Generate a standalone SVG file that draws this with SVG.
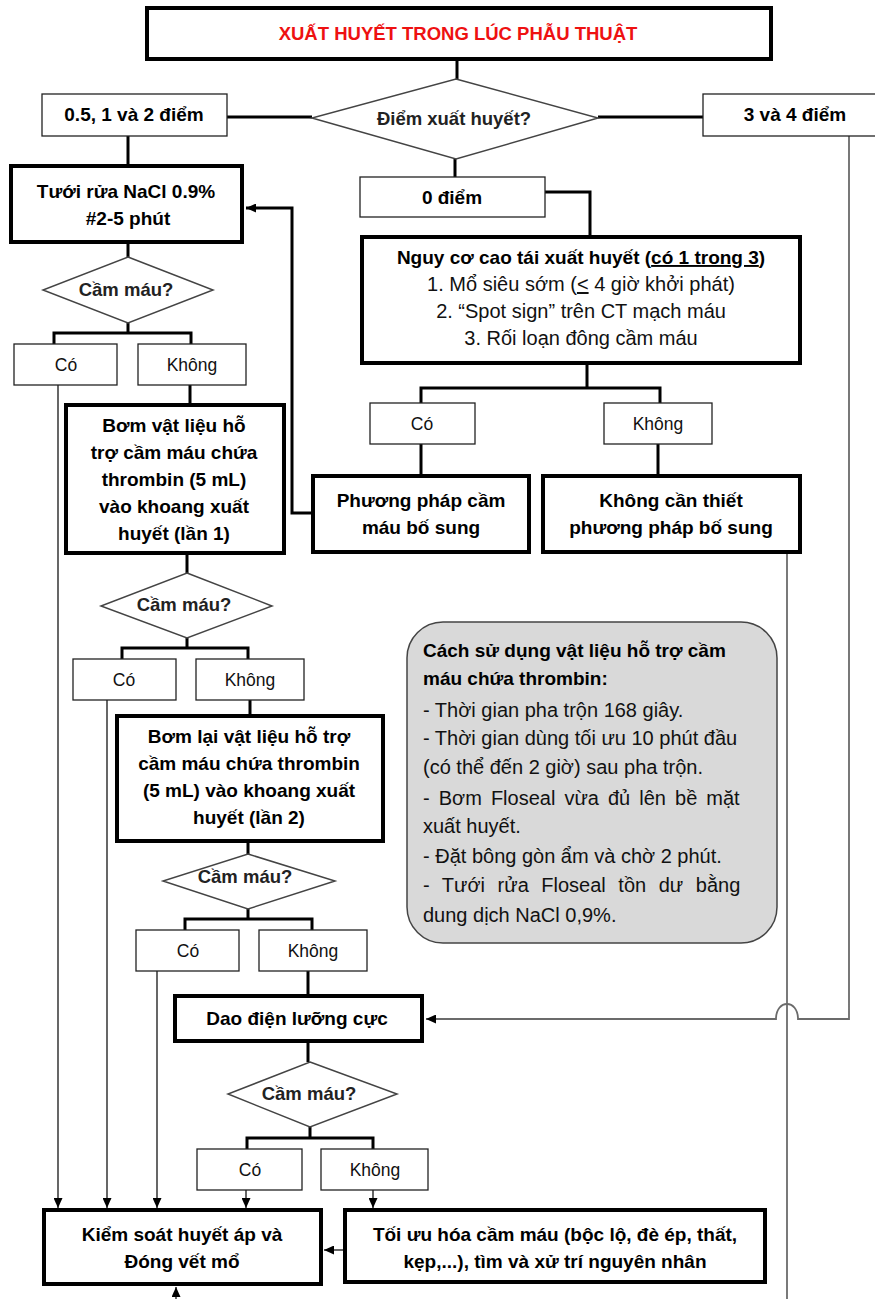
<svg xmlns="http://www.w3.org/2000/svg" width="875" height="1299" viewBox="0 0 875 1299">
<style>
text{font-family:"Liberation Sans",Arial,sans-serif;fill:#000}
.b{font-weight:700;font-size:19px;text-anchor:middle}
.t{font-weight:700;font-size:18.5px;text-anchor:middle;fill:#ee1111}
.d{font-weight:700;font-size:18.5px;text-anchor:middle;fill:#222}
.n{font-weight:400;font-size:20px;text-anchor:middle;fill:#111}
.l{font-weight:400;font-size:17.5px;text-anchor:middle;fill:#111}
.nl{font-weight:400;font-size:20px;fill:#111}
.nb{font-weight:700;font-size:19px;fill:#000}
.thick{fill:#fff;stroke:#000;stroke-width:4}
.thin{fill:#fff;stroke:#222;stroke-width:1.3}
.dia{fill:#fff;stroke:#444;stroke-width:1.5}
.note{fill:#d9d9d9;stroke:#444;stroke-width:1.5}
.c3{fill:none;stroke:#000;stroke-width:3}
.c1{fill:none;stroke:#000;stroke-width:1.2}
.cg{fill:none;stroke:#6b6b6b;stroke-width:1.8}
</style>
<defs>
<marker id="ah" markerUnits="userSpaceOnUse" markerWidth="10" markerHeight="9" refX="10" refY="4.5" orient="auto">
<path d="M0,0 L10,4.5 L0,9 z" fill="#000"/>
</marker>
</defs>
<rect width="875" height="1299" fill="#fff"/>

<g id="connectors">
<path class="c3" d="M457 61 V79"/>
<path class="c3" d="M227 117 H312"/>
<path class="c3" d="M598 117 H703"/>
<path class="c3" d="M128 136 V164"/>
<path class="c3" d="M455 159 V177"/>
<path class="c3" d="M545 192 H590 V235"/>
<path class="c3" d="M587 365 V388 M421 403 V388 H660 V403"/>
<path class="c3" d="M421 444 V474"/>
<path class="c3" d="M658 444 V474"/>
<path class="c3" d="M311 513 H292 V208 H246" marker-end="url(#ah)"/>
<path class="c3" d="M128 244 V257"/>
<path class="c3" d="M128 323 V333 M54 344 V333 H191 V344"/>
<path class="c3" d="M190 385 V403"/>
<path class="c3" d="M187 555 V573"/>
<path class="c3" d="M187 638 V648 M122 659 V648 H248 V659"/>
<path class="c3" d="M250 700 V714"/>
<path class="c3" d="M248 843 V854"/>
<path class="c3" d="M248 909 V919 M185 930 V919 H312 V930"/>
<path class="c3" d="M308 971 V994"/>
<path class="c3" d="M308 1043 V1062"/>
<path class="c3" d="M310 1127 V1138 M247 1149 V1138 H373 V1149"/>
<path class="c1" d="M58 385 V1208" marker-end="url(#ah)"/>
<path class="c1" d="M107 700 V1208" marker-end="url(#ah)"/>
<path class="c1" d="M157 971 V1208" marker-end="url(#ah)"/>
<path class="c1" d="M246 1190 V1208" marker-end="url(#ah)"/>
<path class="c1" d="M373 1190 V1208" marker-end="url(#ah)"/>
<path class="c1" d="M343 1250 H324" marker-end="url(#ah)"/>
<path class="c1" d="M176 1299 V1287" marker-end="url(#ah)"/>
<path class="cg" d="M787 554 V1299"/>
<path class="cg" d="M849 136 V1019 H798 C798 999 776 999 776 1019 H426" marker-end="url(#ah)"/>
</g>

<g id="title">
<rect class="thick" x="147" y="8" width="624" height="51"/>
<text class="t" x="458" y="40">XUẤT HUYẾT TRONG LÚC PHẪU THUẬT</text>
</g>
<g id="diem-xuat-huyet">
<polygon class="dia" points="456,79 598,118 456,159 312,118"/>
<text class="d" x="454" y="125">Điểm xuất huyết?</text>
</g>
<g id="diem-05-2">
<rect class="thin" x="42" y="94" width="185" height="42"/>
<text class="b" x="134" y="121">0.5, 1 và 2 điểm</text>
</g>
<g id="diem-3-4">
<rect class="thin" x="703" y="94" width="185" height="42"/>
<text class="b" x="795" y="121">3 và 4 điểm</text>
</g>
<g id="diem-0">
<rect class="thin" x="360" y="177" width="185" height="40"/>
<text class="b" x="452" y="204">0 điểm</text>
</g>
<g id="tuoi-rua">
<rect class="thick" x="11" y="166" width="231" height="76"/>
<text class="b" x="126" y="198">Tưới rửa NaCl 0.9%</text>
<text class="b" x="128" y="225">#2-5 phút</text>
</g>
<g id="nguy-co">
<rect class="thick" x="362" y="237" width="438" height="126"/>
<text class="b" x="581" y="264">Nguy cơ cao tái xuất huyết (<tspan text-decoration="underline">có 1 trong 3</tspan>)</text>
<text class="n" x="581" y="291">1. Mổ siêu sớm (<tspan text-decoration="underline">&lt;</tspan> 4 giờ khởi phát)</text>
<text class="n" x="581" y="318">2. “Spot sign” trên CT mạch máu</text>
<text class="n" x="581" y="345">3. Rối loạn đông cầm máu</text>
</g>
<g id="co-r">
<rect class="thin" x="370" y="403" width="105" height="41"/>
<text class="l" x="422" y="430">Có</text>
</g>
<g id="khong-r">
<rect class="thin" x="604" y="403" width="108" height="41"/>
<text class="l" x="658" y="430">Không</text>
</g>
<g id="pp-cam-mau">
<rect class="thick" x="313" y="476" width="216" height="76"/>
<text class="b" x="421" y="507">Phương pháp cầm</text>
<text class="b" x="421" y="534">máu bố sung</text>
</g>
<g id="khong-can-thiet">
<rect class="thick" x="543" y="476" width="257" height="76"/>
<text class="b" x="671" y="507">Không cần thiết</text>
<text class="b" x="671" y="534">phương pháp bố sung</text>
</g>
<g id="cam-mau-1">
<polygon class="dia" points="128,257 213,290 128,323 43,290"/>
<text class="d" x="126" y="296">Cầm máu?</text>
</g>
<g id="co-1">
<rect class="thin" x="14" y="344" width="103" height="41"/>
<text class="l" x="66" y="371">Có</text>
</g>
<g id="khong-1">
<rect class="thin" x="138" y="344" width="108" height="41"/>
<text class="l" x="192" y="371">Không</text>
</g>
<g id="bom-1">
<rect class="thick" x="66" y="405" width="218" height="148"/>
<text class="b" x="174" y="432">Bơm vật liệu hỗ</text>
<text class="b" x="174" y="459">trợ cầm máu chứa</text>
<text class="b" x="174" y="486">thrombin (5 mL)</text>
<text class="b" x="174" y="513">vào khoang xuất</text>
<text class="b" x="174" y="540">huyết (lần 1)</text>
</g>
<g id="cam-mau-2">
<polygon class="dia" points="187,573 272,606 187,638 101,606"/>
<text class="d" x="184" y="611">Cầm máu?</text>
</g>
<g id="co-2">
<rect class="thin" x="73" y="659" width="103" height="41"/>
<text class="l" x="124" y="686">Có</text>
</g>
<g id="khong-2">
<rect class="thin" x="196" y="659" width="108" height="41"/>
<text class="l" x="250" y="686">Không</text>
</g>
<g id="bom-2">
<rect class="thick" x="117" y="716" width="266" height="125"/>
<text class="b" x="249" y="743">Bơm lại vật liệu hỗ trợ</text>
<text class="b" x="249" y="770">cầm máu chứa thrombin</text>
<text class="b" x="249" y="797">(5 mL) vào khoang xuất</text>
<text class="b" x="249" y="824">huyết (lần 2)</text>
</g>
<g id="cam-mau-3">
<polygon class="dia" points="248,854 335,881 248,909 163,881"/>
<text class="d" x="245" y="883">Cầm máu?</text>
</g>
<g id="co-3">
<rect class="thin" x="136" y="930" width="103" height="41"/>
<text class="l" x="188" y="957">Có</text>
</g>
<g id="khong-3">
<rect class="thin" x="259" y="930" width="108" height="41"/>
<text class="l" x="313" y="957">Không</text>
</g>
<g id="dao-dien">
<rect class="thick" x="175" y="996" width="247" height="45"/>
<text class="b" x="297" y="1025">Dao điện lưỡng cực</text>
</g>
<g id="cam-mau-4">
<polygon class="dia" points="310,1062 397,1094 310,1127 228,1094"/>
<text class="d" x="309" y="1100">Cầm máu?</text>
</g>
<g id="co-4">
<rect class="thin" x="197" y="1149" width="105" height="41"/>
<text class="l" x="250" y="1176">Có</text>
</g>
<g id="khong-4">
<rect class="thin" x="321" y="1149" width="107" height="41"/>
<text class="l" x="375" y="1176">Không</text>
</g>
<g id="kiem-soat">
<rect class="thick" x="44" y="1210" width="277" height="74"/>
<text class="b" x="182" y="1241">Kiểm soát huyết áp và</text>
<text class="b" x="182" y="1268">Đóng vết mổ</text>
</g>
<g id="toi-uu">
<rect class="thick" x="345" y="1210" width="420" height="72"/>
<text class="b" x="555" y="1241">Tối ưu hóa cầm máu (bộc lộ, đè ép, thất,</text>
<text class="b" x="555" y="1268">kẹp,...), tìm và xử trí nguyên nhân</text>
</g>
<g id="ghi-chu">
<rect class="note" x="407" y="622" width="370" height="321" rx="36" ry="36"/>
<text class="nb" x="423" y="657">Cách sử dụng vật liệu hỗ trợ cầm</text>
<text class="nb" x="423" y="685">máu chứa thrombin:</text>
<text class="nl" x="423" y="717">- Thời gian pha trộn 168 giây.</text>
<text class="nl" x="423" y="745">- Thời gian dùng tối ưu 10 phút đầu</text>
<text class="nl" x="423" y="774">(có thể đến 2 giờ) sau pha trộn.</text>
<text class="nl" x="423" y="805" word-spacing="3.5">- Bơm Floseal vừa đủ lên bề mặt</text>
<text class="nl" x="423" y="833">xuất huyết.</text>
<text class="nl" x="423" y="863">- Đặt bông gòn ẩm và chờ 2 phút.</text>
<text class="nl" x="423" y="892" word-spacing="7">- Tưới rửa Floseal tồn dư bằng</text>
<text class="nl" x="423" y="922">dung dịch NaCl 0,9%.</text>
</g>
</svg>
